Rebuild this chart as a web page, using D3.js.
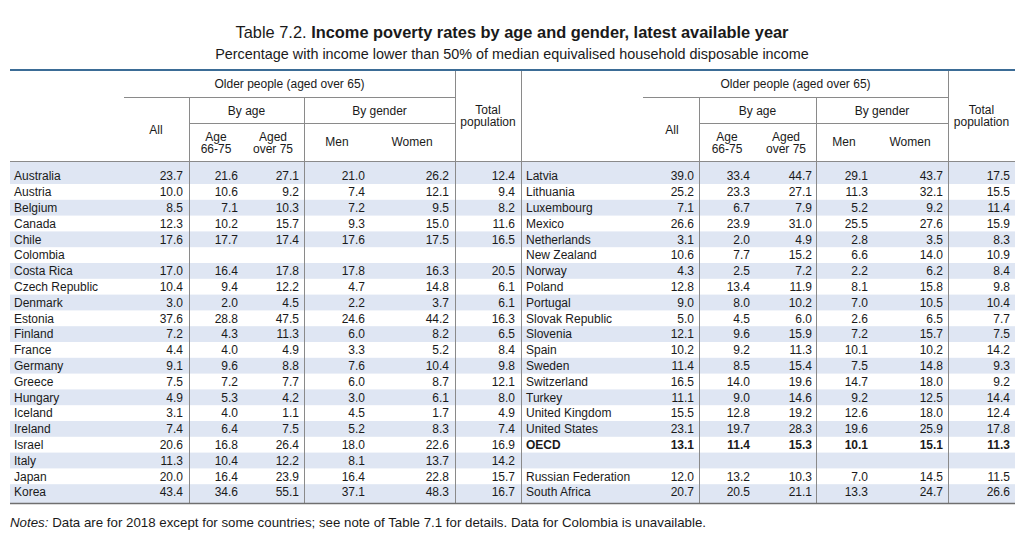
<!DOCTYPE html>
<html><head><meta charset="utf-8">
<script src="https://cdn.jsdelivr.net/npm/d3@7"></script>
<style>
html,body{margin:0;padding:0;background:#fff;}
svg{display:block;font-family:"Liberation Sans",Arial,sans-serif;}
</style></head>
<body><svg id="chart" width="1024" height="534"></svg>
<script>
// ---- DATA ----
const countriesLeft = ["Australia","Austria","Belgium","Canada","Chile","Colombia","Costa Rica","Czech Republic","Denmark","Estonia","Finland","France","Germany","Greece","Hungary","Iceland","Ireland","Israel","Italy","Japan","Korea"];
const allLeft    = [23.7,10.0,8.5,12.3,17.6,null,17.0,10.4,3.0,37.6,7.2,4.4,9.1,7.5,4.9,3.1,7.4,20.6,11.3,20.0,43.4];
const age6675Left= [21.6,10.6,7.1,10.2,17.7,null,16.4,9.4,2.0,28.8,4.3,4.0,9.6,7.2,5.3,4.0,6.4,16.8,10.4,16.4,34.6];
const over75Left = [27.1,9.2,10.3,15.7,17.4,null,17.8,12.2,4.5,47.5,11.3,4.9,8.8,7.7,4.2,1.1,7.5,26.4,12.2,23.9,55.1];
const menLeft    = [21.0,7.4,7.2,9.3,17.6,null,17.8,4.7,2.2,24.6,6.0,3.3,7.6,6.0,3.0,4.5,5.2,18.0,8.1,16.4,37.1];
const womenLeft  = [26.2,12.1,9.5,15.0,17.5,null,16.3,14.8,3.7,44.2,8.2,5.2,10.4,8.7,6.1,1.7,8.3,22.6,13.7,22.8,48.3];
const totalLeft  = [12.4,9.4,8.2,11.6,16.5,null,20.5,6.1,6.1,16.3,6.5,8.4,9.8,12.1,8.0,4.9,7.4,16.9,14.2,15.7,16.7];

const countriesRight = ["Latvia","Lithuania","Luxembourg","Mexico","Netherlands","New Zealand","Norway","Poland","Portugal","Slovak Republic","Slovenia","Spain","Sweden","Switzerland","Turkey","United Kingdom","United States","OECD","","Russian Federation","South Africa"];
const allRight    = [39.0,25.2,7.1,26.6,3.1,10.6,4.3,12.8,9.0,5.0,12.1,10.2,11.4,16.5,11.1,15.5,23.1,13.1,null,12.0,20.7];
const age6675Right= [33.4,23.3,6.7,23.9,2.0,7.7,2.5,13.4,8.0,4.5,9.6,9.2,8.5,14.0,9.0,12.8,19.7,11.4,null,13.2,20.5];
const over75Right = [44.7,27.1,7.9,31.0,4.9,15.2,7.2,11.9,10.2,6.0,15.9,11.3,15.4,19.6,14.6,19.2,28.3,15.3,null,10.3,21.1];
const menRight    = [29.1,11.3,5.2,25.5,2.8,6.6,2.2,8.1,7.0,2.6,7.2,10.1,7.5,14.7,9.2,12.6,19.6,10.1,null,7.0,13.3];
const womenRight  = [43.7,32.1,9.2,27.6,3.5,14.0,6.2,15.8,10.5,6.5,15.7,10.2,14.8,18.0,12.5,18.0,25.9,15.1,null,14.5,24.7];
const totalRight  = [17.5,15.5,11.4,15.9,8.3,10.9,8.4,9.8,10.4,7.7,7.5,14.2,9.3,9.2,14.4,12.4,17.8,11.3,null,11.5,26.6];
const boldRows = ["OECD"];

const titlePlain = "Table 7.2. ";
const titleBold = "Income poverty rates by age and gender, latest available year";
const subtitle = "Percentage with income lower than 50% of median equivalised household disposable income";
const notesLabel = "Notes:";
const notesText = " Data are for 2018 except for some countries; see note of Table 7.1 for details. Data for Colombia is unavailable.";

// ---- LAYOUT ----
const svg = d3.select("#chart");
const textColor = "#1a1a1a";
const shade = "#dfe6f3";
const lineGrey = "#8a8a8a";
const tableLeft = 10, tableRight = 1015;
const topLine = 70, headBottom = 161, bottomLine = 503;

const halves = [
  {x0: 10, x1: 521, nameX: 14, names: countriesLeft,
   cols: [allLeft, age6675Left, over75Left, menLeft, womenLeft, totalLeft],
   colRight: [183, 238, 299, 365, 449, 515],
   vlines: [189, 304],
   olderX: [124, 455], byAgeX: [189, 304], byGenderX: [304, 455], totalX: [455, 521],
   allC: 156, ageC: 216, overC: 273, menC: 337, womenC: 412},
  {x0: 521, x1: 1015, nameX: 526, names: countriesRight,
   cols: [allRight, age6675Right, over75Right, menRight, womenRight, totalRight],
   colRight: [694, 750, 812, 868, 943, 1010],
   vlines: [699, 816],
   olderX: [643, 948], byAgeX: [699, 816], byGenderX: [816, 948], totalX: [948, 1015],
   allC: 672, ageC: 727, overC: 786, menC: 844, womenC: 910}
];

const y = d3.scaleBand().domain(d3.range(21)).range([168.2, 500]).paddingInner(0).paddingOuter(0);

// title
const t = svg.append("text").attr("x", 512).attr("y", 38).attr("text-anchor", "middle")
  .attr("font-size", 16.4).attr("fill", textColor);
t.append("tspan").text(titlePlain);
t.append("tspan").attr("font-weight", "bold").text(titleBold);
svg.append("text").attr("x", 512).attr("y", 59).attr("text-anchor", "middle")
  .attr("font-size", 14.4).attr("fill", textColor).text(subtitle);

// row shading
halves.forEach(h => {
  svg.append("g").selectAll("rect").data(d3.range(21).filter(i => i % 2 === 0)).join("rect")
    .attr("x", h.x0).attr("width", h.x1 - h.x0)
    .attr("y", i => i === 0 ? headBottom : y(i))
    .attr("height", i => (i === 0 ? y(i) - headBottom : 0) + y.bandwidth() + (i === 20 ? bottomLine - y.range()[1] : 0))
    .attr("fill", shade);
});

// lines
const lines = svg.append("g").attr("stroke", lineGrey).attr("stroke-width", 1).attr("shape-rendering", "crispEdges");
halves.forEach(h => {
  lines.append("line").attr("x1", h.olderX[0]).attr("x2", h.olderX[1]).attr("y1", 97.5).attr("y2", 97.5);
  lines.append("line").attr("x1", h.byAgeX[0]).attr("x2", h.byGenderX[1]).attr("y1", 123.5).attr("y2", 123.5);
  h.vlines.forEach(vx => lines.append("line").attr("x1", vx + 0.5).attr("x2", vx + 0.5).attr("y1", 97.5).attr("y2", bottomLine));
  lines.append("line").attr("x1", h.totalX[0] + 0.5).attr("x2", h.totalX[0] + 0.5).attr("y1", topLine).attr("y2", bottomLine);
});
lines.append("line").attr("x1", 521.5).attr("x2", 521.5).attr("y1", topLine).attr("y2", bottomLine);
lines.append("line").attr("x1", tableLeft).attr("x2", tableRight).attr("y1", headBottom + 0.5).attr("y2", headBottom + 0.5);
svg.append("line").attr("x1", tableLeft).attr("x2", tableRight).attr("y1", bottomLine + 0.5).attr("y2", bottomLine + 0.5)
  .attr("stroke", "#6f6f6f").attr("stroke-width", 1.6);
svg.append("line").attr("x1", tableLeft).attr("x2", tableRight).attr("y1", topLine).attr("y2", topLine)
  .attr("stroke", "#3b6c96").attr("stroke-width", 2);

// headers
const hdr = svg.append("g").attr("font-size", 12).attr("fill", textColor).attr("text-anchor", "middle");
function htext(x, yy, lines_) {
  const tx = hdr.append("text").attr("x", x).attr("y", yy);
  lines_.forEach((l, k) => tx.append("tspan").attr("x", x).attr("dy", k === 0 ? 0 : 11.5).text(l));
}
halves.forEach(h => {
  htext((h.olderX[0] + h.olderX[1]) / 2, 88, ["Older people (aged over 65)"]);
  htext((h.byAgeX[0] + h.byAgeX[1]) / 2, 115, ["By age"]);
  htext((h.byGenderX[0] + h.byGenderX[1]) / 2, 115, ["By gender"]);
  htext((h.totalX[0] + h.totalX[1]) / 2, 114, ["Total", "population"]);
  htext(h.allC, 134, ["All"]);
  htext(h.ageC, 141, ["Age", "66-75"]);
  htext(h.overC, 141, ["Aged", "over 75"]);
  htext(h.menC, 146, ["Men"]);
  htext(h.womenC, 146, ["Women"]);
});

// body
halves.forEach(h => {
  const g = svg.append("g").attr("font-size", 12).attr("fill", textColor);
  g.selectAll("text.name").data(h.names).join("text").attr("class", "name")
    .attr("x", h.nameX).attr("y", (d, i) => y(i) + y.bandwidth() / 2).attr("dy", "0.36em")
    .attr("font-weight", d => boldRows.includes(d) ? "bold" : null).text(d => d);
  h.cols.forEach((col, c) => {
    g.selectAll("text.c" + c).data(col).join("text").attr("class", "c" + c)
      .attr("x", h.colRight[c]).attr("text-anchor", "end")
      .attr("y", (d, i) => y(i) + y.bandwidth() / 2).attr("dy", "0.36em")
      .attr("font-weight", (d, i) => boldRows.includes(h.names[i]) ? "bold" : null)
      .text(d => d == null ? "" : d3.format(".1f")(d));
  });
});

// notes
const n = svg.append("text").attr("x", 10).attr("y", 527).attr("font-size", 13.3).attr("fill", textColor);
n.append("tspan").attr("font-style", "italic").text(notesLabel);
n.append("tspan").text(notesText);
</script></body></html>
